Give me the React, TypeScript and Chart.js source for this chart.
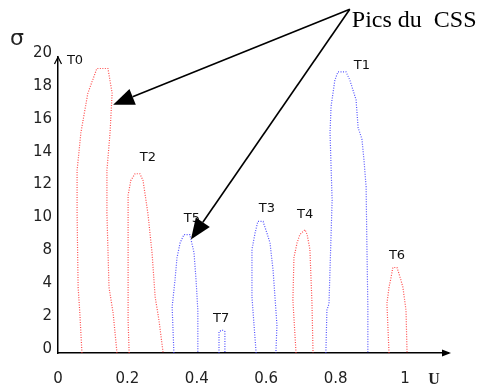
import React, { useEffect, useRef } from 'react';
import { Chart, registerables } from 'chart.js';
Chart.register(...registerables);

// Axis ticks
const xTickValues = [0, 0.2, 0.4, 0.6, 0.8, 1];
const xTickLabels = ['0', '0.2', '0.4', '0.6', '0.8', '1'];
const yTickValues = [0, 2, 4, 6, 8, 10, 12, 14, 16, 18];
const yTickLabels = ['0', '2', '4', '8', '10', '12', '14', '16', '18', '20'];

// Peak outlines (x in U, y in axis units)
const t0X = [0.069, 0.063, 0.058, 0.055, 0.055, 0.066, 0.086, 0.112, 0.144, 0.156, 0.150, 0.141, 0.141, 0.147, 0.159, 0.170];
const t0Y = [0, 2.4, 4.0, 8.5, 11.1, 13.4, 15.8, 17.3, 17.3, 15.8, 13.4, 11.1, 8.5, 4.0, 2.4, 0];
const t2X = [0.205, 0.202, 0.202, 0.202, 0.210, 0.222, 0.236, 0.245, 0.259, 0.271, 0.280, 0.291, 0.303];
const t2Y = [0, 2.0, 6.4, 9.6, 10.5, 10.9, 10.9, 10.5, 8.5, 6.1, 3.4, 2.0, 0];
const t5X = [0.334, 0.329, 0.337, 0.343, 0.352, 0.363, 0.380, 0.392, 0.398, 0.403, 0.403];
const t5Y = [0, 2.8, 4.4, 5.8, 6.7, 7.2, 7.2, 6.1, 4.4, 2.6, 0];
const t7X = [0.464, 0.464, 0.473, 0.481, 0.481];
const t7Y = [0, 1.3, 1.4, 1.3, 0];
const t3X = [0.571, 0.559, 0.559, 0.568, 0.576, 0.591, 0.602, 0.611, 0.620, 0.631, 0.628];
const t3Y = [0, 3.4, 6.3, 7.3, 8.0, 8.0, 7.3, 6.7, 5.0, 1.7, 0];
const t4X = [0.686, 0.677, 0.680, 0.689, 0.697, 0.712, 0.718, 0.726, 0.732, 0.735];
const t4Y = [0, 3.2, 5.8, 6.7, 7.2, 7.5, 7.2, 6.3, 3.0, 0];
const t1X = [0.772, 0.775, 0.781, 0.790, 0.784, 0.787, 0.798, 0.807, 0.830, 0.841, 0.859, 0.865, 0.876, 0.882, 0.888, 0.890, 0.893, 0.893];
const t1Y = [0, 2.6, 3.0, 9.3, 13.4, 15.0, 16.6, 17.1, 17.1, 16.6, 15.4, 13.7, 13.0, 11.7, 10.1, 6.9, 2.8, 0];
const t6X = [0.954, 0.948, 0.954, 0.960, 0.965, 0.977, 0.986, 0.994, 1.003, 1.006];
const t6Y = [0, 3.0, 4.0, 4.6, 5.2, 5.2, 4.6, 4.0, 2.6, 0];

// Peak labels
const peakNames = ['T0', 'T2', 'T5', 'T7', 'T3', 'T4', 'T1', 'T6'];
const peakLabelX = [0.049, 0.259, 0.386, 0.470, 0.602, 0.712, 0.876, 0.977];
const peakLabelY = [17.8, 11.9, 8.2, 2.1, 8.8, 8.4, 17.5, 5.9];

// Annotation arrows
const arrowText = 'Pics du  CSS';
const arrowFromX = 0.841;
const arrowFromY = 20.9;
const arrowTipX = [0.159, 0.383];
const arrowTipY = [15.1, 6.9];

const RED = 'rgba(255,30,30,0.8)';
const BLUE = 'rgba(40,40,255,0.8)';

function mk(xs: number[], ys: number[], color: string) {
  return {
    data: xs.map((x, i) => ({ x, y: ys[i] })),
    showLine: true,
    borderColor: color,
    borderWidth: 1.2,
    borderDash: [1, 1.5],
    pointRadius: 0,
    fill: false,
    tension: 0,
  };
}

const overlay = {
  id: 'overlay',
  afterDraw(chart: any) {
    const ctx = chart.ctx;
    const xs = chart.scales.x;
    const ys = chart.scales.y;
    const { left, right, top, bottom } = chart.chartArea;
    ctx.save();
    ctx.strokeStyle = '#000';
    ctx.fillStyle = '#000';
    ctx.lineWidth = 1.2;
    // y-axis arrow chevron
    ctx.beginPath();
    ctx.moveTo(left - 3.5, top + 7);
    ctx.lineTo(left, top);
    ctx.lineTo(left + 3.5, top + 7);
    ctx.stroke();
    // x-axis arrowhead
    ctx.beginPath();
    ctx.moveTo(right + 3, bottom);
    ctx.lineTo(right - 6, bottom - 3.5);
    ctx.lineTo(right - 6, bottom + 3.5);
    ctx.closePath();
    ctx.fill();

    // peak labels
    ctx.font = '13px "DejaVu Sans"';
    ctx.fillStyle = '#111';
    ctx.textAlign = 'center';
    ctx.textBaseline = 'middle';
    peakNames.forEach((n, i) => {
      ctx.fillText(n, xs.getPixelForValue(peakLabelX[i]), ys.getPixelForValue(peakLabelY[i]));
    });

    // arrows
    const fx = xs.getPixelForValue(arrowFromX);
    const fy = ys.getPixelForValue(arrowFromY);
    ctx.fillStyle = '#000';
    ctx.lineWidth = 1.6;
    arrowTipX.forEach((tx0, i) => {
      const tx = xs.getPixelForValue(tx0);
      const ty = ys.getPixelForValue(arrowTipY[i]);
      const ang = Math.atan2(ty - fy, tx - fx);
      const L = 21;
      const W = 8.5;
      const bx = tx - L * Math.cos(ang);
      const by = ty - L * Math.sin(ang);
      ctx.beginPath();
      ctx.moveTo(fx, fy);
      ctx.lineTo(bx, by);
      ctx.stroke();
      ctx.beginPath();
      ctx.moveTo(tx, ty);
      ctx.lineTo(bx + W * Math.sin(ang), by - W * Math.cos(ang));
      ctx.lineTo(bx - W * Math.sin(ang), by + W * Math.cos(ang));
      ctx.closePath();
      ctx.fill();
    });

    // annotation text
    ctx.font = '24px "Liberation Serif"';
    ctx.textAlign = 'left';
    ctx.textBaseline = 'alphabetic';
    ctx.fillText(arrowText, fx + 2, fy + 18);

    // axis titles
    ctx.font = '22px "DejaVu Sans"';
    ctx.textAlign = 'center';
    ctx.textBaseline = 'middle';
    ctx.fillStyle = '#222';
    ctx.fillText('σ', 17, 39);
    ctx.font = 'bold 16px "Liberation Serif"';
    ctx.fillText('U', right - 14, 380);
    ctx.restore();
  },
};

export default function App() {
  const ref = useRef<HTMLCanvasElement>(null);
  useEffect(() => {
    if (!ref.current) return;
    const chart = new Chart(ref.current, {
      type: 'scatter',
      data: {
        datasets: [
          mk(t0X, t0Y, RED),
          mk(t2X, t2Y, RED),
          mk(t5X, t5Y, BLUE),
          mk(t7X, t7Y, BLUE),
          mk(t3X, t3Y, BLUE),
          mk(t4X, t4Y, RED),
          mk(t1X, t1Y, BLUE),
          mk(t6X, t6Y, RED),
        ] as any,
      },
      options: {
        animation: false,
        responsive: false,
        layout: { padding: { top: 57, right: 35, left: 0, bottom: 0 } },
        plugins: { legend: { display: false }, tooltip: { enabled: false } },
        scales: {
          x: {
            type: 'linear',
            min: 0,
            max: 1.124,
            grid: { display: false, drawTicks: false },
            border: { display: true, color: '#000', width: 1.5 },
            afterBuildTicks: (s: any) => { s.ticks = xTickValues.map((v) => ({ value: v })); },
            afterFit: (s: any) => { s.height = 34; },
            ticks: {
              padding: 17,
              color: '#222',
              font: { family: '"DejaVu Sans"', size: 15 },
              maxRotation: 0,
              callback: (_v: any, i: number) => xTickLabels[i],
            },
          },
          y: {
            type: 'linear',
            min: 0,
            max: 18,
            grid: { display: false, drawTicks: false },
            border: { display: true, color: '#000', width: 1.5 },
            afterBuildTicks: (s: any) => { s.ticks = yTickValues.map((v) => ({ value: v })); },
            afterFit: (s: any) => { s.width = 58; },
            ticks: {
              padding: 6,
              labelOffset: -4,
              color: '#222',
              font: { family: '"DejaVu Sans"', size: 15 },
              callback: (_v: any, i: number) => yTickLabels[i],
            },
          },
        },
      },
      plugins: [overlay],
    });
    return () => chart.destroy();
  }, []);
  return (
    <div style={{ position: 'fixed', left: 0, top: 0, width: 483, height: 387, background: '#fff' }}>
      <canvas ref={ref} width={483} height={387} />
    </div>
  );
}
